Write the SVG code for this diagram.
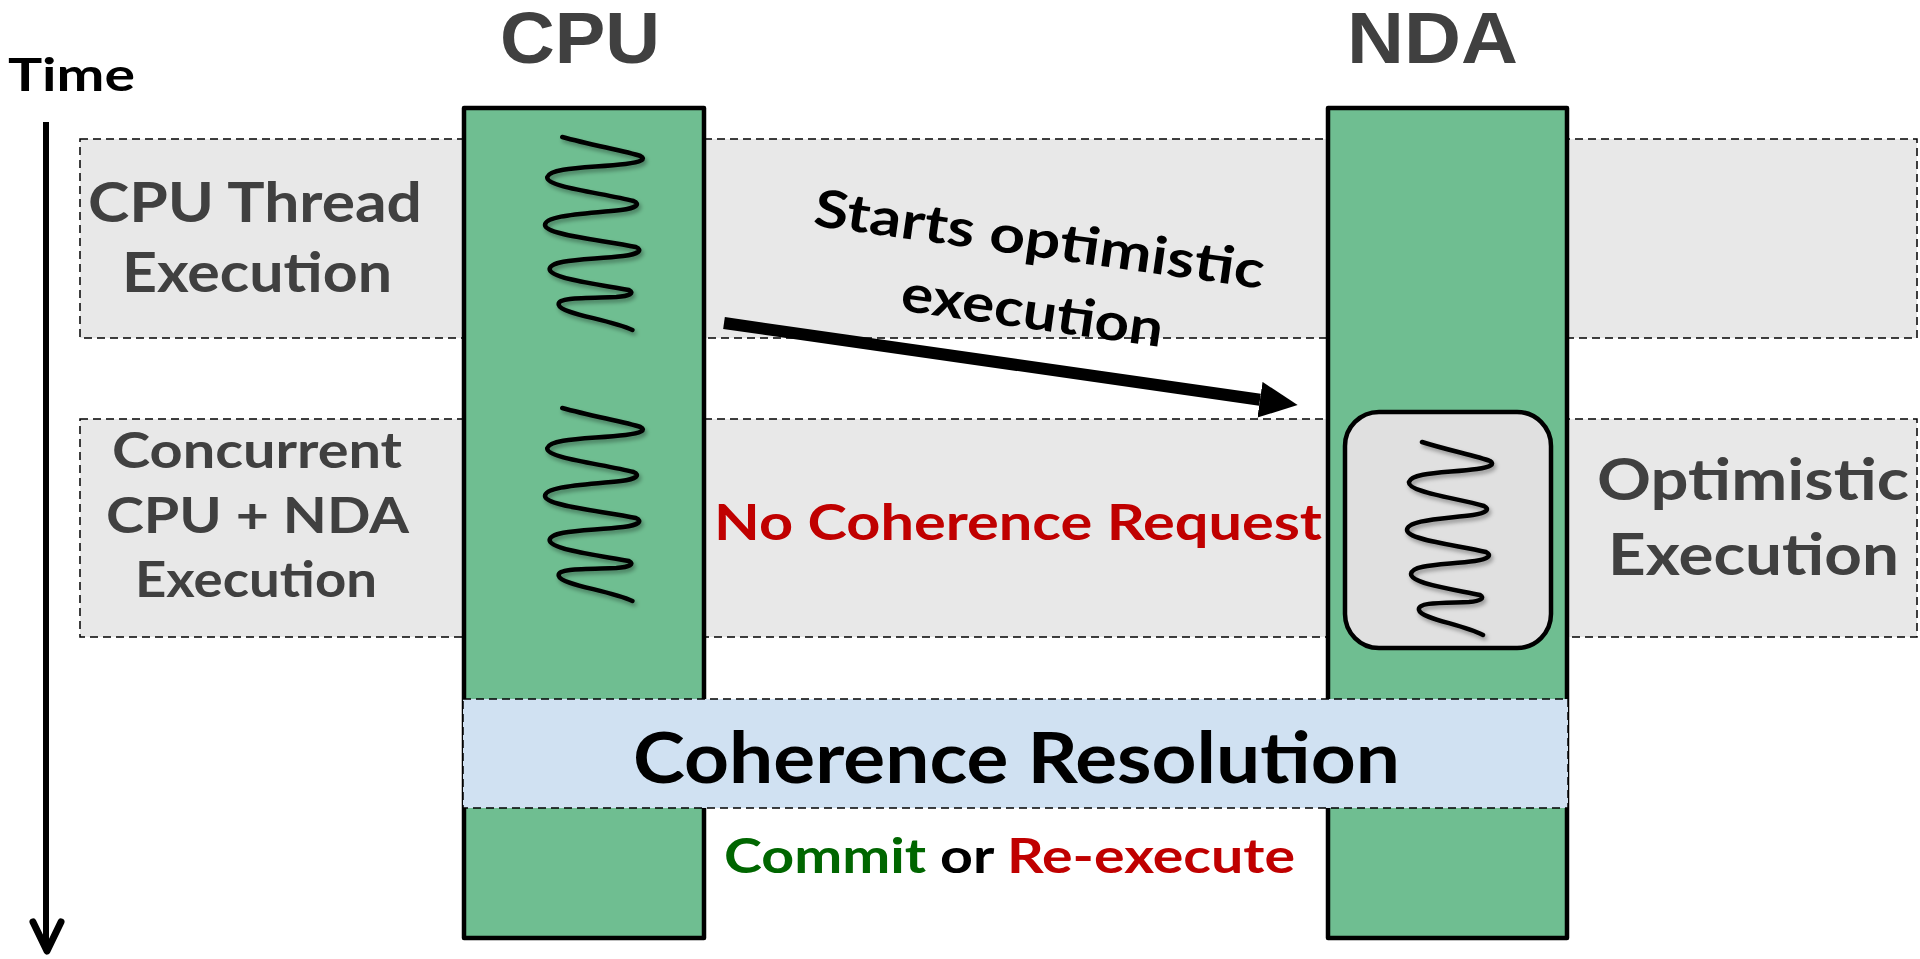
<svg xmlns="http://www.w3.org/2000/svg" xmlns:xlink="http://www.w3.org/1999/xlink" width="1920" height="959" viewBox="0 0 1920 959">
<defs>
<style>
.band{fill:#e8e8e8;stroke:#000;stroke-width:1.5;stroke-dasharray:8 5}
.res{fill:#d0e1f2;stroke:#000;stroke-width:1.5;stroke-dasharray:8 5}
.col{fill:#6fbe91;stroke:#000;stroke-width:4.5;stroke-linejoin:round}
.box{fill:#e0e0e0;stroke:#000;stroke-width:4.5}
.sq{fill:none;stroke:#000;stroke-width:4.5;stroke-linecap:round;stroke-linejoin:round}
.lbl{font-family:Lato,"Open Sans","DejaVu Sans",sans-serif;font-weight:700;fill:#404040}
.hd{font-family:"Liberation Sans",Arial,sans-serif;font-weight:700;fill:#404040}
.blk{font-family:Lato,"Open Sans","DejaVu Sans",sans-serif;font-weight:700;fill:#000}
.red{fill:#c00000}
.grn{fill:#006600}
</style>
<filter id="sh" x="-30%" y="-20%" width="160%" height="140%">
<feDropShadow dx="2" dy="3" stdDeviation="2" flood-color="#000" flood-opacity="0.35"/>
</filter>
<path id="sq" class="sq" vector-effect="non-scaling-stroke" d="M15,0 C40,8 70,14 83,19 C88,22 84,25 70,27 C40,31 5,30 2,40 C0,50 50,56 77,64 C83,67 80,71 66,73 C35,77 0,78 0,88 C0,98 50,103 79,110 C85,113 82,117 68,119 C38,123 5,122 4,132 C4,142 50,148 73,153 C78,156 74,159 62,160 C35,161 10,160 12,168 C14,177 55,182 76,193"/>
<marker id="ah" markerUnits="userSpaceOnUse" viewBox="0 0 38 36" refX="0" refY="18" markerWidth="38" markerHeight="36" orient="auto">
<path d="M0,0 L38,18 L0,36 Z" fill="#000"/>
</marker>
</defs>

<g id="time-axis">
<text class="blk" x="8" y="91" font-size="46" textLength="127" lengthAdjust="spacingAndGlyphs">Time</text>
<line x1="46" y1="122" x2="46" y2="950" stroke="#000" stroke-width="6"/>
<polyline points="33,922 47,951 61,922" fill="none" stroke="#000" stroke-width="7" stroke-linecap="round" stroke-linejoin="round"/>
</g>

<g id="band-cpu-thread">
<rect class="band" x="80" y="139" width="1837" height="199"/>
<text class="lbl" x="88" y="222" font-size="56" textLength="334" lengthAdjust="spacingAndGlyphs">CPU Thread</text>
<text class="lbl" x="122" y="292" font-size="56" textLength="270" lengthAdjust="spacingAndGlyphs">Execution</text>
</g>

<g id="band-concurrent">
<rect class="band" x="80" y="419" width="1837" height="218"/>
<text class="lbl" x="112" y="468" font-size="50" textLength="290" lengthAdjust="spacingAndGlyphs">Concurrent</text>
<text class="lbl" x="106" y="533" font-size="50" textLength="303" lengthAdjust="spacingAndGlyphs">CPU + NDA</text>
<text class="lbl" x="135" y="597" font-size="50" textLength="242" lengthAdjust="spacingAndGlyphs">Execution</text>
</g>

<g id="cpu">
<text class="hd" x="500" y="63" font-size="72" textLength="160" lengthAdjust="spacingAndGlyphs">CPU</text>
<rect class="col" x="464" y="108" width="240" height="830"/>
<g filter="url(#sh)">
<use xlink:href="#sq" transform="translate(545,137) scale(1.15,1)"/>
<use xlink:href="#sq" transform="translate(545,408) scale(1.15,1)"/>
</g>
</g>

<g id="nda">
<text class="hd" x="1347" y="63" font-size="72" textLength="171" lengthAdjust="spacingAndGlyphs">NDA</text>
<rect class="col" x="1328" y="108" width="239" height="830"/>
</g>

<g id="optimistic-box">
<rect class="box" x="1345" y="412" width="206" height="236" rx="34" ry="34"/>
<g filter="url(#sh)">
<use xlink:href="#sq" transform="translate(1407,442)"/>
</g>
</g>

<g id="optimistic-label">
<text class="lbl" x="1597" y="500" font-size="58" textLength="312" lengthAdjust="spacingAndGlyphs">Optimistic</text>
<text class="lbl" x="1608" y="575" font-size="58" textLength="291" lengthAdjust="spacingAndGlyphs">Execution</text>
</g>

<g id="connectors">
<line x1="724" y1="323" x2="1260" y2="399.7" stroke="#000" stroke-width="12" marker-end="url(#ah)"/>
</g>

<g id="arrow-label" transform="translate(1037,257) rotate(8)">
<text class="blk" x="0" y="0" font-size="52" text-anchor="middle" textLength="454" lengthAdjust="spacingAndGlyphs">Starts optimistic</text>
<text class="blk" x="3" y="72" font-size="52" text-anchor="middle" textLength="264" lengthAdjust="spacingAndGlyphs">execution</text>
</g>

<g id="no-coherence">
<text class="lbl red" x="714" y="540" font-size="50" textLength="608" lengthAdjust="spacingAndGlyphs">No Coherence Request</text>
</g>

<g id="coherence-resolution">
<rect class="res" x="463" y="699" width="1105" height="109"/>
<text class="blk" x="633" y="783" font-size="70" textLength="767" lengthAdjust="spacingAndGlyphs">Coherence Resolution</text>
</g>

<g id="commit-label">
<text class="blk" x="724" y="873" font-size="48" textLength="571" lengthAdjust="spacingAndGlyphs"><tspan class="grn">Commit</tspan> or <tspan class="red">Re-execute</tspan></text>
</g>
</svg>
